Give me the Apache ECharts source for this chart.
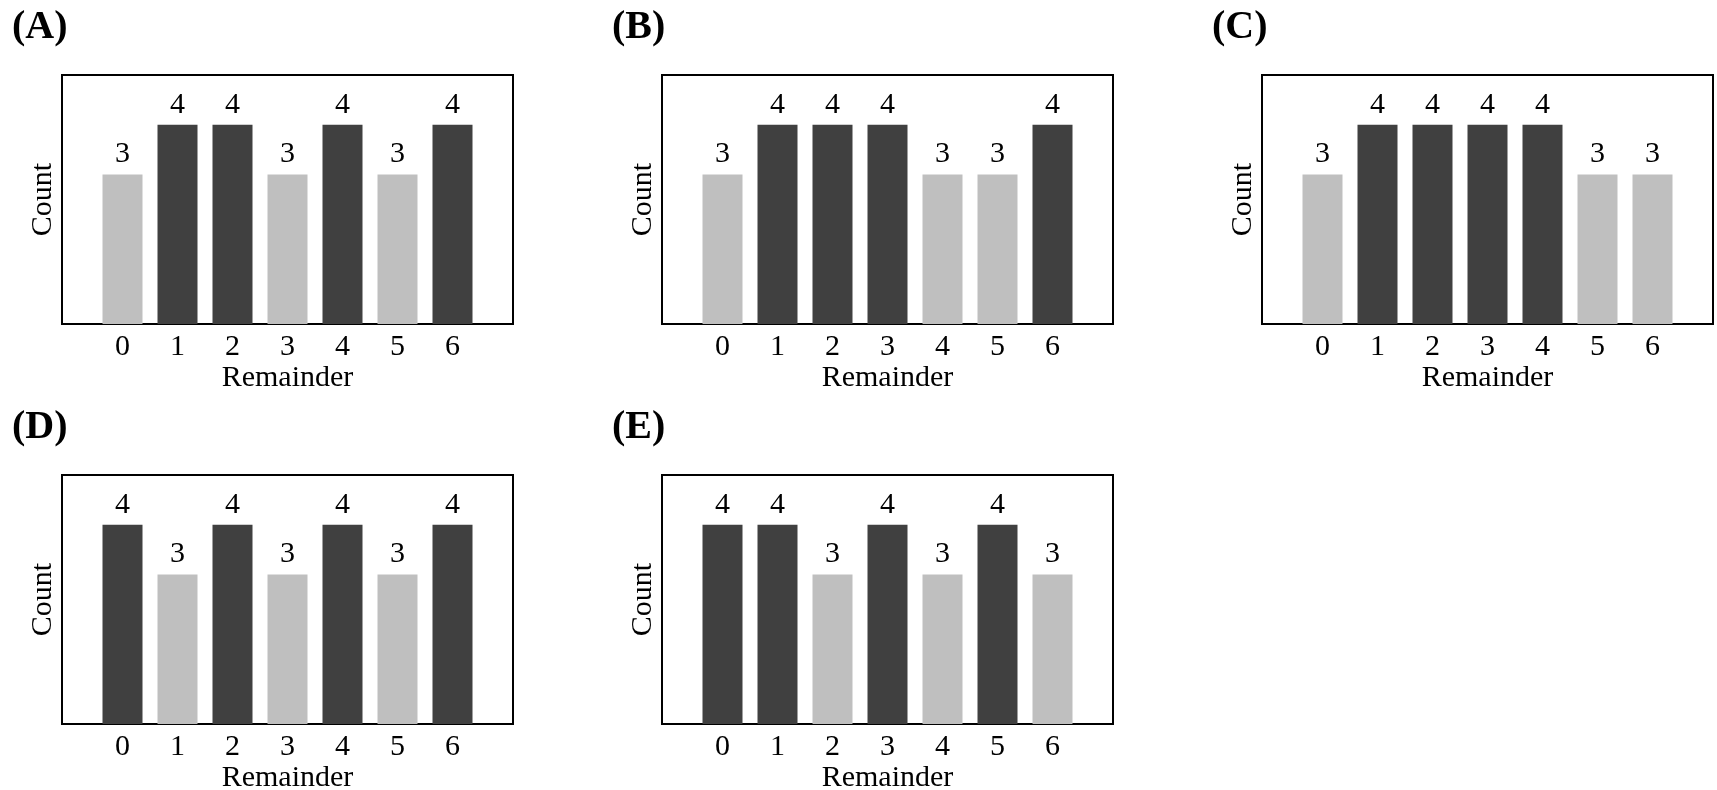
<!DOCTYPE html>
<html>
<head>
<meta charset="utf-8">
<script src="https://cdn.jsdelivr.net/npm/echarts@6/dist/echarts.min.js"></script>
<style>
    html, body { margin: 0; padding: 0; background: #fff; }
    #chart { width: 1717px; height: 790px; }
</style>
</head>
<body>
<div id="chart"></div>
<script>
// remainder categories shared by every panel
var remainders = [0, 1, 2, 3, 4, 5, 6];
// counts per remainder, one array per panel
var countsA = [3, 4, 4, 3, 4, 3, 4];
var countsB = [3, 4, 4, 4, 3, 3, 4];
var countsC = [3, 4, 4, 4, 4, 3, 3];
var countsD = [4, 3, 4, 3, 4, 3, 4];
var countsE = [4, 4, 3, 4, 3, 4, 3];
var panelNames = ['(A)', '(B)', '(C)', '(D)', '(E)'];
var panelCounts = [countsA, countsB, countsC, countsD, countsE];

var FONT = 'Liberation Serif';
var DARK = '#404040';
var LIGHT = '#bfbfbf';

var grids = [], xAxes = [], yAxes = [], series = [], titles = [];

panelCounts.forEach(function (counts, i) {
    var col = i % 3, row = Math.floor(i / 3);
    var left = 62 + col * 600, top = 75 + row * 400;

    titles.push({
        text: panelNames[i],
        left: left - 55,
        top: top - 72,
        textStyle: { fontFamily: FONT, fontWeight: 'bold', fontSize: 40, color: '#000' }
    });

    grids.push({
        left: left, top: top, width: 451, height: 249,
        show: true, borderColor: '#000', borderWidth: 2,
        backgroundColor: 'transparent',
        outerBoundsMode: 'none'
    });

    xAxes.push({
        type: 'value', gridIndex: i,
        min: -1.1, max: 7.1,
        name: 'Remainder', nameLocation: 'middle', nameGap: 38,
        nameTextStyle: { fontFamily: FONT, fontSize: 30, color: '#000' },
        axisLine: { show: false }, axisTick: { show: false },
        splitLine: { show: false },
        axisLabel: {
            customValues: remainders,
            margin: 8,
            fontFamily: FONT, fontSize: 30, color: '#000'
        }
    });

    yAxes.push({
        type: 'value', gridIndex: i,
        min: 0, max: 5,
        name: 'Count', nameLocation: 'middle', nameGap: 4, nameRotate: 90,
        nameTextStyle: { fontFamily: FONT, fontSize: 30, color: '#000' },
        axisLine: { show: false }, axisTick: { show: false },
        axisLabel: { show: false }, splitLine: { show: false }
    });

    series.push({
        type: 'bar',
        xAxisIndex: i, yAxisIndex: i,
        barWidth: 40,
        data: remainders.map(function (r, j) { return [r, counts[j]]; }),
        itemStyle: {
            color: function (p) { return p.value[1] >= 4 ? DARK : LIGHT; }
        },
        label: {
            show: true, position: 'top', distance: 5,
            formatter: function (p) { return p.value[1]; },
            fontFamily: FONT, fontSize: 30, color: '#000'
        },
        silent: true
    });
});

var myChart = echarts.init(document.getElementById('chart'));
myChart.setOption({
    animation: false,
    title: titles,
    grid: grids,
    xAxis: xAxes,
    yAxis: yAxes,
    series: series
});
</script>
</body>
</html>
